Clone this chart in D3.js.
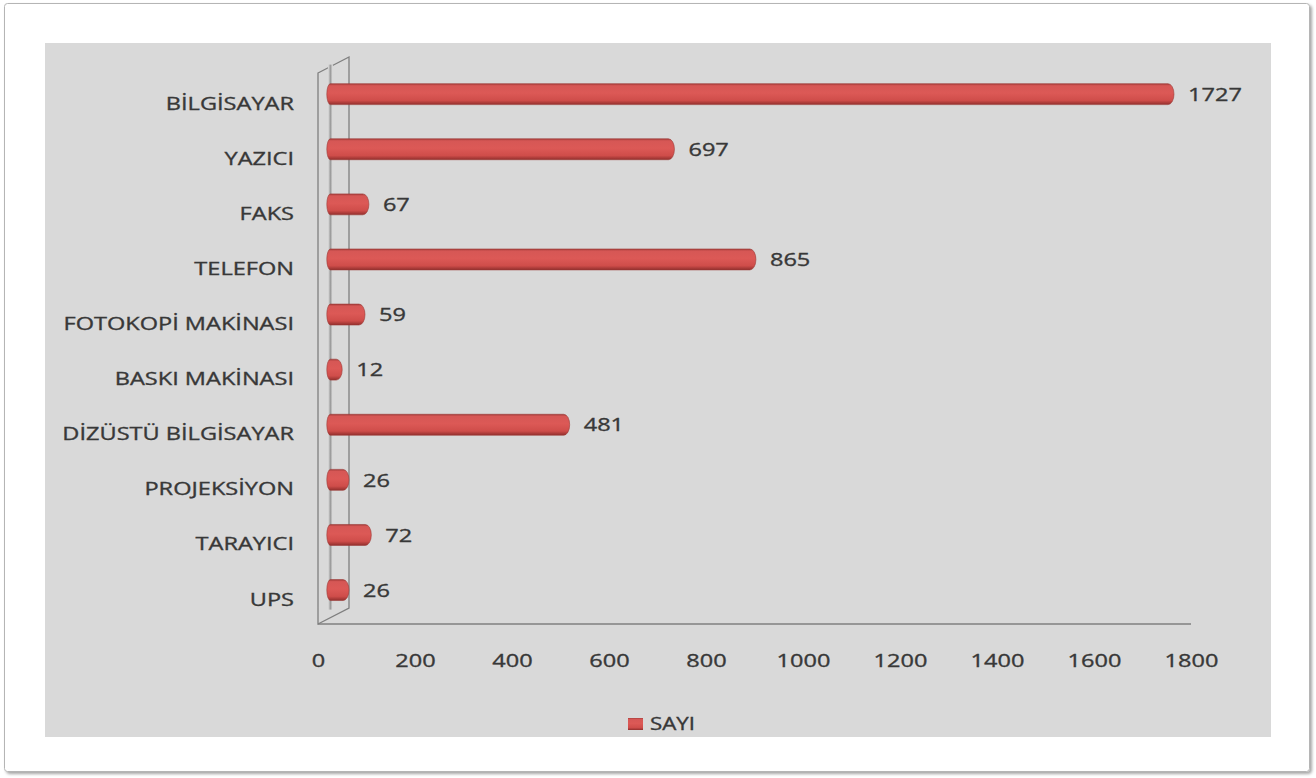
<!DOCTYPE html>
<html>
<head>
<meta charset="utf-8">
<script src="https://cdn.jsdelivr.net/npm/d3@7"></script>
<style>
  html, body { margin: 0; padding: 0; background: #fff; }
  svg { display: block; }
  text { font-family: "Open Sans", sans-serif; fill: #383838; stroke: #383838; stroke-width: 0.35px; }
</style>
</head>
<body>
<div id="grafik"></div>
<script>
const kategoriler = ["BİLGİSAYAR", "YAZICI", "FAKS", "TELEFON", "FOTOKOPİ MAKİNASI",
  "BASKI MAKİNASI", "DİZÜSTÜ BİLGİSAYAR", "PROJEKSİYON", "TARAYICI", "UPS"];
const sayilar = [1727, 697, 67, 865, 59, 12, 481, 26, 72, 26];
const eksenEtiketleri = [0, 200, 400, 600, 800, 1000, 1200, 1400, 1600, 1800];
const seriAdi = "SAYI";

const width = 1316;
const height = 778;
// resim yatayda gerilmis gibi duruyor, yazilari da ayni oranda genislet
const yaziGenis = 1.24;

const svg = d3.select("#grafik")
  .append("svg")
  .attr("width", width)
  .attr("height", height);

const defs = svg.append("defs");

// cubuk renk gecisi (ustten alta)
const grad = defs.append("linearGradient")
  .attr("id", "cubukRenk")
  .attr("x1", 0).attr("y1", 0).attr("x2", 0).attr("y2", 1);
[["0%", "#a63c3a"], ["10%", "#d65755"], ["45%", "#dc5956"], ["80%", "#cf4d4a"], ["100%", "#922f2d"]]
  .forEach(([o, c]) => grad.append("stop").attr("offset", o).attr("stop-color", c));

const duvarCizgi = defs.append("linearGradient")
  .attr("id", "duvarCizgi")
  .attr("x1", 0).attr("y1", 0).attr("x2", 1).attr("y2", 0);
[["0%", "#e4e4e4"], ["50%", "#9a9a9a"], ["100%", "#e4e4e4"]]
  .forEach(([o, c]) => duvarCizgi.append("stop").attr("offset", o).attr("stop-color", c));

const golge = defs.append("filter").attr("id", "golge")
  .attr("x", "-2%").attr("y", "-2%").attr("width", "104%").attr("height", "104%");
golge.append("feDropShadow")
  .attr("dx", 2).attr("dy", 2).attr("stdDeviation", 1.5)
  .attr("flood-color", "#000").attr("flood-opacity", 0.35);

// dis cerceve ve gri panel
svg.append("rect")
  .attr("x", 4.5).attr("y", 3.5)
  .attr("width", 1305).attr("height", 768)
  .attr("rx", 3)
  .attr("fill", "#fff")
  .attr("stroke", "#b5b5b5")
  .attr("filter", "url(#golge)");

svg.append("rect")
  .attr("x", 45).attr("y", 43)
  .attr("width", 1226).attr("height", 694)
  .attr("fill", "#d9d9d9");

// olcekler
const x = d3.scaleLinear().domain([0, 1800]).range([318, 1191]);
const y = d3.scaleBand().domain(kategoriler).range([73, 624]);

// 3B derinlik
const derinX = 31, derinY = -16;
const cubukX = derinX * 0.4, cubukY = derinY * 0.4;

const ustY = y.range()[0];
const altY = y.range()[1];
const x0 = x(0);

// sol duvar
svg.append("path")
  .attr("d", `M${x0},${ustY} L${x0 + derinX},${ustY + derinY} L${x0 + derinX},${altY + derinY} L${x0},${altY} Z`)
  .attr("fill", "#d9d9d9")
  .attr("stroke", "#7f7f7f")
  .attr("stroke-width", 1.3);

svg.append("rect")
  .attr("x", x0 + cubukX - 2.5)
  .attr("y", ustY + cubukY - 2)
  .attr("width", 5)
  .attr("height", altY - ustY - 6)
  .attr("fill", "url(#duvarCizgi)");

// taban
svg.append("line")
  .attr("x1", x0).attr("y1", altY)
  .attr("x2", x(1800)).attr("y2", altY)
  .attr("stroke", "#7f7f7f")
  .attr("stroke-width", 1.5);

// cubuklar
const kalinlik = y.bandwidth() * 0.38;
const capR = 6;

function cubukYolu(d, i) {
  const yy = y(kategoriler[i]) + y.bandwidth() / 2 + cubukY - kalinlik / 2;
  const bas = x0 + cubukX;
  const son = x(d) + cubukX;
  const h = kalinlik;
  return `M${bas},${yy} L${son},${yy} A${capR},${h / 2} 0 0 1 ${son},${yy + h} L${bas},${yy + h} A${capR * 0.6},${h / 2} 0 0 1 ${bas},${yy} Z`;
}

svg.append("g")
  .selectAll("path")
  .data(sayilar)
  .join("path")
  .attr("d", cubukYolu)
  .attr("fill", "url(#cubukRenk)")
  .attr("stroke", "#9c3a38")
  .attr("stroke-width", 0.6);

// deger etiketleri
svg.append("g")
  .selectAll("text")
  .data(sayilar)
  .join("text")
  .attr("transform", (d, i) =>
    `translate(${x(d) + cubukX + capR + 14},${y(kategoriler[i]) + y.bandwidth() / 2 + cubukY}) scale(${yaziGenis},1)`)
  .attr("dy", "0.35em")
  .attr("font-size", 19)
  .text(d => d);

// kategori ekseni
const yEksen = svg.append("g")
  .attr("transform", `translate(${x0 - 24},3)`)
  .call(d3.axisLeft(y).tickSize(0).tickPadding(0));
yEksen.select(".domain").remove();
yEksen.selectAll("text")
  .attr("x", null)
  .attr("transform", `scale(${yaziGenis},1)`)
  .attr("font-size", 19)
  .style("font-family", "'Open Sans', sans-serif")
  .attr("fill", "#383838");

// deger ekseni
const xEksen = svg.append("g")
  .attr("transform", `translate(0,${altY + 30})`)
  .call(d3.axisBottom(x).tickValues(eksenEtiketleri).tickSize(0).tickPadding(0).tickFormat(d3.format("d")));
xEksen.select(".domain").remove();
xEksen.selectAll("text")
  .attr("transform", `scale(${yaziGenis},1)`)
  .attr("font-size", 19)
  .style("font-family", "'Open Sans', sans-serif")
  .attr("fill", "#383838");

// lejant
const lejant = svg.append("g").attr("transform", "translate(628,718)");
lejant.append("rect")
  .attr("width", 15).attr("height", 12)
  .attr("fill", "url(#cubukRenk)");
lejant.append("text")
  .attr("transform", `translate(22,6) scale(${yaziGenis},1)`)
  .attr("dy", "0.36em")
  .attr("font-size", 18)
  .text(seriAdi);
</script>
</body>
</html>
